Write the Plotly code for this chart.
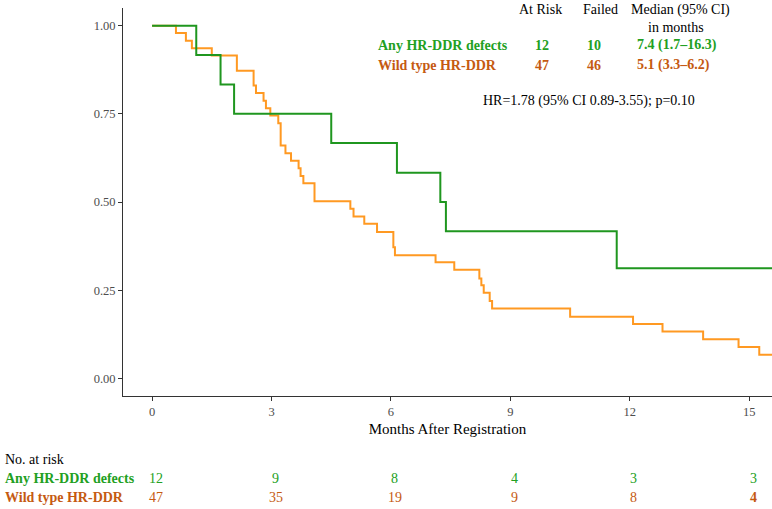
import plotly.graph_objects as go

# ---------------- data ----------------
hr_time = [0, 1.11, 1.72, 2.06, 4.50, 6.15, 7.24, 7.38, 11.67, 16.0]
hr_surv = [1.0, 0.917, 0.833, 0.750, 0.667, 0.583, 0.500, 0.417, 0.3125, 0.3125]

wt_time = [0, 0.60, 0.85, 1.00, 1.50, 2.13, 2.55, 2.61, 2.80, 2.86, 2.97, 3.17, 3.23,
           3.35, 3.49, 3.68, 3.73, 3.80, 4.08, 4.98, 5.06, 5.33, 5.65, 6.06, 6.10,
           7.12, 7.59, 8.22, 8.27, 8.33, 8.48, 8.54, 10.50, 12.08, 12.82, 13.84,
           14.73, 15.25, 16.0]
wt_surv = [1.0, 0.979, 0.957, 0.936, 0.915, 0.872, 0.830, 0.809, 0.787, 0.766, 0.745,
           0.723, 0.660, 0.638, 0.617, 0.596, 0.574, 0.553, 0.502, 0.481, 0.459,
           0.438, 0.415, 0.372, 0.349, 0.329, 0.308, 0.283, 0.264, 0.243, 0.219,
           0.198, 0.175, 0.154, 0.133, 0.111, 0.089, 0.067, 0.067]

groups = ["Any HR-DDR defects", "Wild type HR-DDR"]
at_risk_total = [12, 47]
failed = [10, 46]
median_ci = ["7.4 (1.7\u201316.3)", "5.1 (3.3\u20136.2)"]
hr_text = "HR=1.78 (95% CI 0.89-3.55); p=0.10"

risk_times = [0, 3, 6, 9, 12, 15]
risk_hr = [12, 9, 8, 4, 3, 3]
risk_wt = [47, 35, 19, 9, 8, 4]

x_ticks = [0, 3, 6, 9, 12, 15]
y_ticks = [0.0, 0.25, 0.5, 0.75, 1.0]
y_ticklabels = ["0.00", "0.25", "0.50", "0.75", "1.00"]

# ---------------- style ----------------
W, H = 772, 509
L, R, T, B = 123, 0, 8, 113
GREEN_LINE = "#1f961f"
ORANGE_LINE = "#ff9922"
GREEN_TXT = "#22a022"
ORANGE_TXT = "#c55a11"
FONT = "Liberation Serif"


def fx(px):
    return (px - L) / (W - L - R)


def fy(py):
    return (H - B - py) / (H - T - B)


fig = go.Figure()
fig.add_trace(go.Scatter(x=wt_time, y=wt_surv, mode="lines", line_shape="hv",
                         line=dict(color=ORANGE_LINE, width=2), name=groups[1],
                         showlegend=False))
fig.add_trace(go.Scatter(x=hr_time, y=hr_surv, mode="lines", line_shape="hv",
                         line=dict(color=GREEN_LINE, width=2), name=groups[0],
                         showlegend=False))

ann = []


def add(text, px, py, color="black", size=14, bold=False, anchor="center"):
    t = f"<b>{text}</b>" if bold else text
    ann.append(dict(text=t, x=fx(px), y=fy(py), xref="paper", yref="paper",
                    xanchor=anchor, yanchor="middle", showarrow=False,
                    font=dict(family=FONT, size=size, color=color)))


# header table
add("At Risk", 540, 10)
add("Failed", 600, 10)
add("Median (95% CI)", 680, 10)
add("in months", 676, 27)
row_y = [45, 65]
colors = [GREEN_TXT, ORANGE_TXT]
for i in range(2):
    add(groups[i], 376, row_y[i], colors[i], bold=True, anchor="left")
    add(str(at_risk_total[i]), 542, row_y[i], colors[i], bold=True)
    add(str(failed[i]), 594, row_y[i], colors[i], bold=True)
    add(median_ci[i], 635, row_y[i], colors[i], bold=True, anchor="left")
add(hr_text, 481, 101, anchor="left")

# risk table
add("No. at risk", 3, 459, anchor="left")
add(groups[0], 3, 479, GREEN_TXT, bold=True, anchor="left")
add(groups[1], 3, 497, ORANGE_TXT, bold=True, anchor="left")
for j, t in enumerate(risk_times):
    for vals, yy, col in ((risk_hr, 479, GREEN_TXT), (risk_wt, 497, ORANGE_TXT)):
        txt = str(vals[j])
        if vals is risk_wt and j == len(risk_times) - 1:
            txt = f"<b>{txt}</b>"
        ann.append(dict(text=txt, x=t, y=fy(yy), xref="x", yref="paper",
                        xanchor="center", yanchor="middle", xshift=4, showarrow=False,
                        font=dict(family=FONT, size=14, color=col)))

fig.update_layout(
    width=W, height=H,
    margin=dict(l=L, r=R, t=T, b=B, pad=0),
    paper_bgcolor="white", plot_bgcolor="white",
    annotations=ann,
    xaxis=dict(range=[-0.73, 15.57], tickvals=x_ticks, ticks="outside", ticklen=4,
               tickcolor="#333333", showline=True, linecolor="#333333", linewidth=1,
               showgrid=False, zeroline=False,
               tickfont=dict(family=FONT, size=12.5, color="#4d4d4d"),
               title=dict(text="Months After Registration", standoff=5,
                          font=dict(family=FONT, size=15, color="black"))),
    yaxis=dict(range=[-0.05, 1.05], tickvals=y_ticks, ticktext=y_ticklabels,
               ticks="outside", ticklen=4, tickcolor="#333333", showline=True,
               linecolor="#333333", linewidth=1, showgrid=False, zeroline=False,
               tickfont=dict(family=FONT, size=12.5, color="#4d4d4d")),
)

fig.write_html("out.html", config={"displayModeBar": False},
               post_script="document.body.style.margin='0';"
                           "document.body.style.overflow='hidden';")
